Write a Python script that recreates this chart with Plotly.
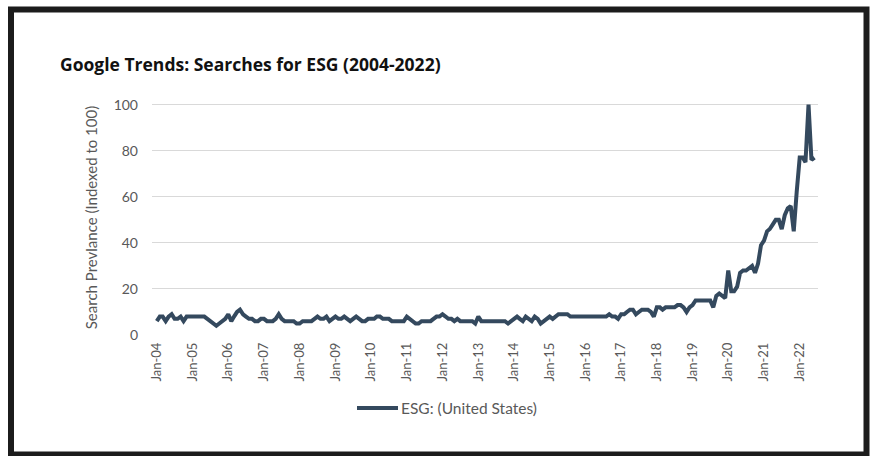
import pandas as pd
import plotly.graph_objects as go

# ---- data (monthly Google Trends index, Jan 2004 - Jun 2022) ----
v2004 = [6, 8, 8, 6, 8, 9, 7, 7, 8, 6, 8, 8]
v2005 = [8, 8, 8, 8, 8, 7, 6, 5, 4, 5, 6, 7]
v2006 = [9, 6, 8, 10, 11, 9, 8, 7, 7, 6, 6, 7]
v2007 = [7, 6, 6, 6, 7, 9, 7, 6, 6, 6, 6, 5]
v2008 = [5, 6, 6, 6, 6, 7, 8, 7, 7, 8, 6, 7]
v2009 = [8, 7, 7, 8, 7, 6, 7, 8, 7, 6, 6, 7]
v2010 = [7, 7, 8, 8, 7, 7, 7, 6, 6, 6, 6, 6]
v2011 = [8, 7, 6, 5, 5, 6, 6, 6, 6, 7, 8, 8]
v2012 = [9, 8, 7, 7, 6, 7, 6, 6, 6, 6, 6, 5]
v2013 = [8, 6, 6, 6, 6, 6, 6, 6, 6, 6, 5, 6]
v2014 = [7, 8, 7, 6, 8, 7, 6, 8, 7, 5, 6, 7]
v2015 = [8, 7, 8, 9, 9, 9, 9, 8, 8, 8, 8, 8]
v2016 = [8, 8, 8, 8, 8, 8, 8, 8, 9, 8, 8, 7]
v2017 = [9, 9, 10, 11, 11, 9, 10, 11, 11, 11, 10, 8]
v2018 = [12, 12, 11, 12, 12, 12, 12, 13, 13, 12, 10, 12]
v2019 = [13, 15, 15, 15, 15, 15, 15, 12, 17, 18, 17, 16]
v2020 = [28, 19, 19, 21, 27, 28, 28, 29, 30, 27, 31, 39]
v2021 = [41, 45, 46, 48, 50, 50, 46, 52, 55, 56, 45, 62]
v2022 = [77, 77, 75, 100, 76, 77]

values = (v2004 + v2005 + v2006 + v2007 + v2008 + v2009 + v2010 + v2011 + v2012
          + v2013 + v2014 + v2015 + v2016 + v2017 + v2018 + v2019 + v2020 + v2021 + v2022)
months = pd.date_range("2004-01-01", periods=len(values), freq="MS")

series_name = "ESG: (United States)"
title_text = "Google Trends: Searches for ESG (2004-2022)"
y_title = "Search Prevlance (Indexed to 100)"
y_ticks = [0, 20, 40, 60, 80, 100]

# ---- layout geometry (pixels) ----
W, H = 872, 456
L, R, T, B = 152, 54, 100, 121
pw, ph = W - L - R, H - T - B


def px_x(p):
    return (p - L) / pw


def px_y(p):
    return (H - B - p) / ph


line_color = "#34495e"
grey = "#595959"

fig = go.Figure()
fig.add_trace(go.Scatter(
    x=months, y=values, mode="lines", name=series_name,
    line=dict(color=line_color, width=4), showlegend=False,
))

fig.update_layout(
    width=W, height=H,
    margin=dict(l=L, r=R, t=T, b=B),
    paper_bgcolor="white", plot_bgcolor="white",
    font=dict(family="Lato, 'Open Sans', sans-serif", color=grey),
    showlegend=False,
    xaxis=dict(
        type="date", range=["2003-11-13", "2022-07-07"],
        tick0="2004-01-01", dtick="M12", tickformat="%b-%y",
        tickangle=-90, tickfont=dict(size=13, color=grey),
        showgrid=False, showline=False, ticks="", zeroline=False,
        ticklabelstandoff=4,
    ),
    yaxis=dict(
        range=[0, 102], tickvals=y_ticks, tickfont=dict(size=14, color=grey),
        showgrid=True, gridcolor="#d9d9d9", gridwidth=1,
        zeroline=False, showline=False, ticks="",
        ticklabelstandoff=13,
        title=dict(text=y_title, font=dict(size=15, color=grey), standoff=12),
    ),
    shapes=[
        # frame around the picture
        dict(type="rect", xref="paper", yref="paper",
             x0=px_x(11), x1=px_x(866.5), y0=px_y(454.5), y1=px_y(9.5),
             line=dict(color="#1c1c1c", width=6), fillcolor="rgba(0,0,0,0)", layer="above"),
        # legend key line
        dict(type="line", xref="paper", yref="paper",
             x0=px_x(357), x1=px_x(398), y0=px_y(408), y1=px_y(408),
             line=dict(color=line_color, width=4)),
    ],
    annotations=[
        dict(text="<b>" + title_text + "</b>", xref="paper", yref="paper",
             x=px_x(58), y=px_y(64), xanchor="left", yanchor="middle", showarrow=False,
             font=dict(size=17.5, color="#111111", family="'Open Sans', sans-serif")),
        # legend label
        dict(text=series_name, xref="paper", yref="paper",
             x=px_x(399), y=px_y(408), xanchor="left", yanchor="middle", showarrow=False,
             font=dict(size=15.5, color=grey)),
    ],
)

fig.write_html("out.html")
